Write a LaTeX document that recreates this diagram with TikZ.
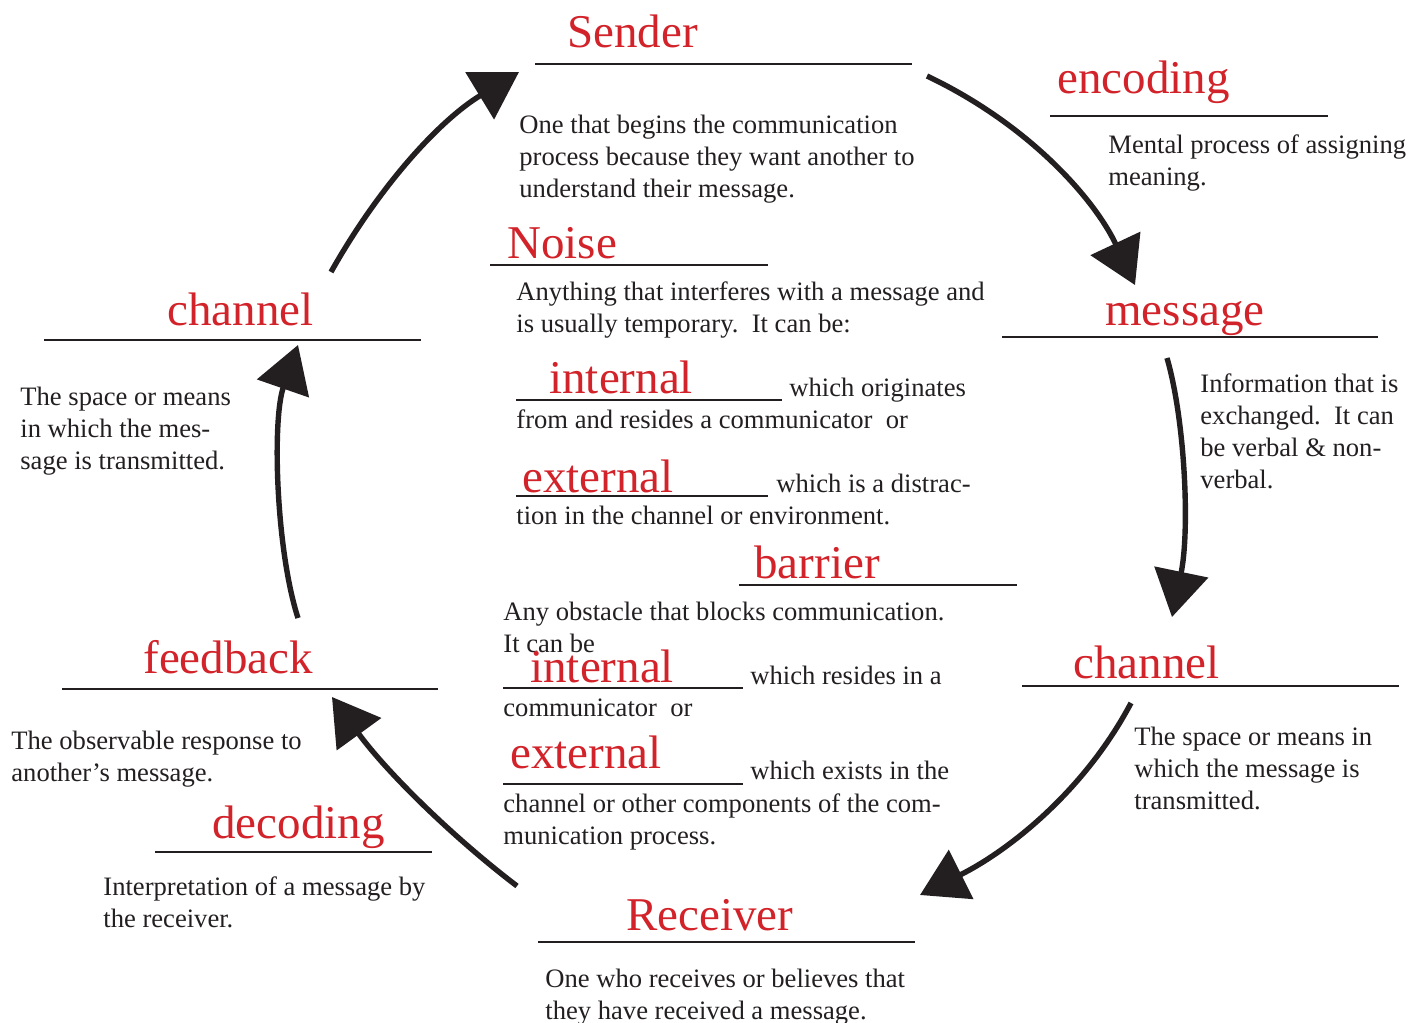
\documentclass[tikz,border=0pt]{standalone}
\usepackage{fontspec}
\setmainfont{Liberation Serif}
\usetikzlibrary{arrows.meta}
\definecolor{lblred}{RGB}{210,35,42}
\definecolor{ink}{RGB}{35,31,32}
\newcommand{\desclines}[1]{\begin{tabular}[t]{@{}l@{}}#1\end{tabular}}
\begin{document}
\begin{tikzpicture}[x=0.5pt,y=-0.5pt,
  lbl/.style={anchor=base west, inner sep=0pt, text=lblred, font=\fontsize{23.5}{28}\selectfont},
  desc/.style={anchor=base west, inner sep=0pt, text=ink, font=\fontsize{13.3}{16}\selectfont},
  rule/.style={draw=ink, line width=1pt},
  flow/.style={draw=ink, line width=2.7pt, -{Triangle[length=23pt,width=27pt]}}]
\useasboundingbox (0,0) rectangle (1421,1023);

% Sender
\node[lbl] (sender) at (567,47) {Sender};
\draw[rule] (535,64) -- (912,64);
\node[desc] (senderd) at (519,133) {\desclines{One that begins the communication\\process because they want another to\\understand their message.}};

% encoding
\node[lbl] (encoding) at (1057,93) {encoding};
\draw[rule] (1050,116) -- (1328,116);
\node[desc] (encodingd) at (1108,153) {\desclines{Mental process of assigning\\meaning.}};

% Noise
\node[lbl] (noise) at (507,258) {Noise};
\draw[rule] (490,265) -- (768,265);
\node[desc] (noised) at (516,300) {\desclines{Anything that interferes with a message and\\is usually temporary.\ \ It can be:}};

% internal (noise)
\node[lbl] (nint) at (549,393) {internal};
\draw[rule] (516,400) -- (782,400);
\node[desc] (nintd) at (789,396) {which originates};
\node[desc] (nintd2) at (516,428) {from and resides a communicator\ \ or};

% external (noise)
\node[lbl] (next) at (522,492) {external};
\draw[rule] (516,496) -- (768,496);
\node[desc] (nextd) at (776,492) {which is a distrac-};
\node[desc] (nextd2) at (516,524) {tion in the channel or environment.};

% barrier
\node[lbl] (barrier) at (754,578) {barrier};
\draw[rule] (739,585) -- (1017,585);
\node[desc] (barrierd) at (503,620) {\desclines{Any obstacle that blocks communication.\\It can be}};

% internal (barrier)
\node[lbl] (bint) at (530,682) {internal};
\draw[rule] (503,688) -- (743,688);
\node[desc] (bintd) at (750,684) {which resides in a};
\node[desc] (bintd2) at (503,716) {communicator\ \ or};

% external (barrier)
\node[lbl] (bext) at (510,768) {external};
\draw[rule] (503,784) -- (743,784);
\node[desc] (bextd) at (750,779) {which exists in the};
\node[desc] (bextd2) at (503,812) {\desclines{channel or other components of the com-\\munication process.}};

% message
\node[lbl] (message) at (1105,325) {message};
\draw[rule] (1002,337) -- (1378,337);
\node[desc] (messaged) at (1200,392) {\desclines{Information that is\\exchanged.\ \ It can\\be verbal \& non-\\verbal.}};

% channel (right)
\node[lbl] (channelr) at (1073,678) {channel};
\draw[rule] (1022,686) -- (1399,686);
\node[desc] (channelrd) at (1134,745) {\desclines{The space or means in\\which the message is\\transmitted.}};

% Receiver
\node[lbl] (receiver) at (626,930) {Receiver};
\draw[rule] (538,942) -- (915,942);
\node[desc] (receiverd) at (545,987) {\desclines{One who receives or believes that\\they have received a message.}};

% decoding
\node[lbl] (decoding) at (212,838) {decoding};
\draw[rule] (155,852) -- (432,852);
\node[desc] (decodingd) at (103,895) {\desclines{Interpretation of a message by\\the receiver.}};

% feedback
\node[lbl] (feedback) at (143,673) {feedback};
\draw[rule] (62,689) -- (438,689);
\node[desc] (feedbackd) at (11,749) {\desclines{The observable response to\\another’s message.}};

% channel (left)
\node[lbl] (channell) at (167,325) {channel};
\draw[rule] (44,340) -- (421,340);
\node[desc] (channelld) at (20,405) {\desclines{The space or means\\in which the mes-\\sage is transmitted.}};

% arrows
\coordinate (a1s) at (927,76);   \coordinate (a1e) at (1135,285);
\coordinate (a2s) at (1167,358); \coordinate (a2e) at (1172,617);
\coordinate (a3s) at (1131,703); \coordinate (a3e) at (920,895);
\coordinate (a4s) at (517,886);  \coordinate (a4e) at (332,697);
\coordinate (a5s) at (298,618);  \coordinate (a5e) at (298,345);
\coordinate (a6s) at (331,272);  \coordinate (a6e) at (519,72);

\draw[flow] (a1s) .. controls (1030,125) and (1095,200) .. (a1e);
\draw[flow] (a2s) .. controls (1185,420) and (1190,530) .. (a2e);
\draw[flow] (a3s) .. controls (1085,790) and (1010,850) .. (a3e);
\draw[flow] (a4s) .. controls (450,835) and (385,770) .. (a4e);
\draw[flow] (a5s) .. controls (276,550) and (272,420) .. (a5e);
\draw[flow] (a6s) .. controls (380,185) and (440,120) .. (a6e);
\end{tikzpicture}
\end{document}
